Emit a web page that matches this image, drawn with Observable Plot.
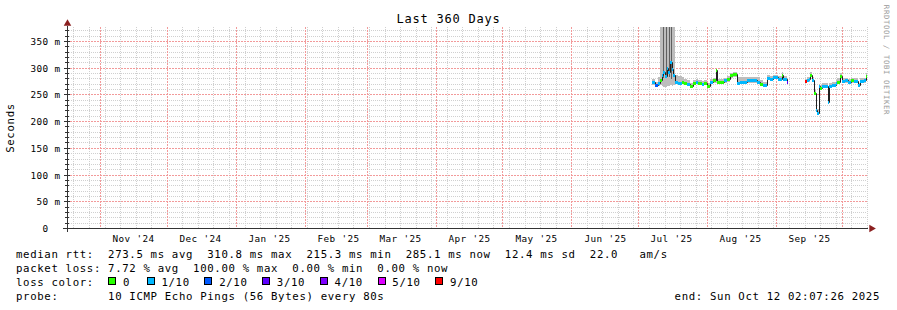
<!DOCTYPE html>
<html>
<head>
<meta charset="utf-8">
<script src="https://cdn.jsdelivr.net/npm/d3@7"></script>
<script src="https://cdn.jsdelivr.net/npm/@observablehq/plot@0.6"></script>
<style>
html,body{margin:0;padding:0;background:#fff;}
#wrap{position:relative;width:897px;height:310px;overflow:hidden;background:#fff;font-family:"DejaVu Sans Mono",monospace;color:#000;}
#chart{position:absolute;left:0;top:0;}
.title{position:absolute;left:0;width:897px;top:12px;text-align:center;font-size:12px;letter-spacing:0.78px;line-height:14px;white-space:pre;}
.ylab{position:absolute;left:11px;top:127.5px;font-size:10.7px;letter-spacing:0.65px;line-height:12px;white-space:pre;transform:translate(-50%,-50%) rotate(-90deg);}
.wm{position:absolute;left:886px;top:60px;font-size:7.33px;letter-spacing:0.6px;line-height:9px;color:#9a9a9a;white-space:pre;transform:translate(-50%,-50%) rotate(90deg);}
.legend{position:absolute;left:16px;top:248px;font-size:10.7px;letter-spacing:0.65px;line-height:14.1px;white-space:pre;}
.row{height:14.1px;}
.box{display:inline-block;width:6px;height:6px;border:1px solid #000;margin-right:6.8px;margin-bottom:1px;vertical-align:baseline;}
.lab{margin-right:14.6px;}
.end{position:absolute;right:17px;top:290.3px;font-size:10.7px;letter-spacing:0.65px;line-height:14.1px;white-space:pre;}
</style>
</head>
<body>
<div id="wrap">
  <div id="chart"></div>
  <div class="title" id="title"></div>
  <div class="ylab" id="ylab"></div>
  <div class="wm" id="wm"></div>
  <div class="legend" id="legend"></div>
  <div class="end" id="end"></div>
</div>
<script>
// ---------- data ----------
const titleText = "Last 360 Days";
const yLabel = "Seconds";
const watermark = "RRDTOOL / TOBI OETIKER";
const startTime = "2024-10-17T02:07:26";
const endTime = "2025-10-12T02:07:26";

const dates = [
"2025-07-07T12:00","2025-07-08T16:00","2025-07-10T00:00","2025-07-10T22:00","2025-07-11T16:00","2025-07-12T10:00","2025-07-13T04:00","2025-07-13T22:00","2025-07-14T14:00","2025-07-15T10:00","2025-07-16T04:00","2025-07-16T22:00",
"2025-07-17T16:00","2025-07-19T00:00","2025-07-20T16:00","2025-07-21T16:00","2025-07-23T00:00","2025-07-24T10:00","2025-07-25T22:00","2025-07-27T02:00","2025-07-28T02:00","2025-07-29T16:00","2025-07-30T16:00","2025-07-31T22:00",
"2025-08-02T10:00","2025-08-03T18:00","2025-08-05T00:00","2025-08-05T10:00","2025-08-07T16:00","2025-08-08T16:00","2025-08-09T22:00","2025-08-11T10:00","2025-08-12T22:00","2025-08-14T10:00","2025-08-15T22:00","2025-08-18T22:00",
"2025-08-21T06:00","2025-08-23T10:00","2025-08-24T22:00","2025-08-26T10:00","2025-08-27T22:00","2025-08-29T10:00","2025-08-30T22:00","2025-09-02T02:00","2025-09-03T16:00","2025-09-04T10:00","2025-09-05T22:00","2025-09-06T12:00",
"2025-09-14T02:00","2025-09-15T04:00","2025-09-15T22:00","2025-09-16T14:00","2025-09-17T10:00","2025-09-18T10:00","2025-09-18T22:00","2025-09-19T16:00","2025-09-20T10:00","2025-09-21T00:00","2025-09-21T22:00","2025-09-23T06:00",
"2025-09-24T12:00","2025-09-25T00:00","2025-09-26T10:00","2025-09-27T22:00","2025-09-28T16:00","2025-09-30T02:00","2025-09-30T22:00","2025-10-02T06:00","2025-10-03T14:00","2025-10-04T22:00","2025-10-06T06:00","2025-10-08T02:00",
"2025-10-09T02:00","2025-10-10T16:00","2025-10-11T10:00","2025-10-12T02:07"
];
// median rtt in ms (null = no data)
const median = [
273,268,272,277,286,292,284,300,292,311,298,287,
274,272,274,272,270,265,271,274,272,269,271,265,
274,276,296,274,274,276,278,286,288,271,274,276,
276,274,270,267,280,279,282,279,287,279,274,null,
275,277,278,287,277,252,221,216,265,262,266,266,
236,266,268,272,274,285,275,276,274,276,275,267,
275,276,285,null
];
// packet loss in tenths
const loss = [
1,2,1,0,1,1,1,1,1,1,1,1,
1,1,0,0,1,0,0,1,0,1,0,0,
1,0,0,0,0,1,0,0,0,1,1,1,
1,1,0,1,1,1,1,1,0,1,3,null,
9,1,1,0,1,0,1,1,1,0,1,1,
1,1,1,1,0,0,1,1,1,0,1,1,
1,1,0,null
];
// smoke (min / max ping) in ms
const smokeLo = [
268,264,266,268,266,264,264,266,266,268,266,268,
270,269,270,268,266,262,267,270,268,265,267,262,
270,272,272,270,270,272,274,280,282,268,271,272,
272,270,266,264,276,275,278,275,282,275,270,null,
272,273,274,282,273,248,217,213,261,258,262,262,
232,262,264,268,270,280,271,272,270,272,271,263,
271,272,280,null
];
const smokeHi = [
278,274,282,400,400,400,400,400,400,400,400,400,
286,284,282,278,276,272,276,278,277,275,276,271,
279,281,296,279,279,281,284,290,292,282,283,283,
283,282,276,274,286,285,287,284,291,284,280,null,
278,282,283,292,282,258,228,222,270,267,271,271,
242,271,273,277,280,290,280,281,279,281,280,272,
280,281,290,null
];
// dark smoke stripes in the July burst
const stripeStart = ["2025-07-12T09:00","2025-07-13T18:00","2025-07-14T20:00","2025-07-15T22:00"];
const stripeEnd   = ["2025-07-12T21:00","2025-07-14T06:00","2025-07-15T08:00","2025-07-16T10:00"];
const stripeLo    = [280, 284, 282, 278];
const stripeHi    = [400, 400, 400, 400];

const lossLevels = [0, 1, 2, 3, 4, 5, 9];
const lossLabels = ["0", "1/10", "2/10", "3/10", "4/10", "5/10", "9/10"];
const lossColors = ["#26ff00", "#00b8ff", "#0059ff", "#5e00ff", "#7e00ff", "#dd00ff", "#ff0000"];

const monthTicks = ["2024-11-01","2024-12-01","2025-01-01","2025-02-01","2025-03-01","2025-04-01","2025-05-01","2025-06-01","2025-07-01","2025-08-01","2025-09-01"];
const yTicks = [0, 50, 100, 150, 200, 250, 300, 350];
const yMax = 376;

const legendRows = [
  "median rtt:  273.5 ms avg  310.8 ms max  215.3 ms min  285.1 ms now  12.4 ms sd  22.0   am/s",
  "packet loss: 7.72 % avg  100.00 % max  0.00 % min  0.00 % now"
];
const lossColorLabel = "loss color:  ";
const probeText = "probe:       10 ICMP Echo Pings (56 Bytes) every 80s";
const endText = "end: Sun Oct 12 02:07:26 2025";

// ---------- build ----------
const parseS = d3.timeParse("%Y-%m-%dT%H:%M:%S");
const parseM = d3.timeParse("%Y-%m-%dT%H:%M");
const parseD = d3.timeParse("%Y-%m-%d");
const start = parseS(startTime), end = parseS(endTime);

const rows = dates.map((d, i) => ({
  date: parseM(d),
  next: i + 1 < dates.length ? parseM(dates[i + 1]) : end,
  median: median[i], loss: loss[i], lo: smokeLo[i], hi: smokeHi[i]
}));
const defined = rows.filter(r => r.median != null);
const stripes = stripeStart.map((s, i) => ({x1: parseM(s), x2: parseM(stripeEnd[i]), y1: stripeLo[i], y2: stripeHi[i]}));

const monthStarts = d3.timeMonth.range(d3.timeDay.offset(start, 1), end);
const weekStarts = d3.timeSunday.range(start, end).filter(d => d.getDate() !== 1);
const labelDates = monthTicks.map(m => d3.timeDay.offset(parseD(m), 15));
const majorY = yTicks.filter(v => v > 0);
const minorY = d3.range(10, yMax, 10).filter(v => v % 50 !== 0);

const axisColor = "#333333";
const arrowColor = "#8b2020";
const minorColor = "#d0d0d0";
const majorColor = "#f29a9a";

const plot = Plot.plot({
  width: 897, height: 310,
  marginLeft: 67, marginRight: 30, marginTop: 27, marginBottom: 82,
  x: {type: "time", domain: [start, end], round: true},
  y: {domain: [0, yMax], round: true},
  color: {type: "ordinal", domain: lossLevels, range: lossColors},
  style: {fontFamily: "DejaVu Sans Mono", fontSize: "9.33px", letterSpacing: "0.38px", background: "transparent", color: "#000"},
  marks: [
    // grid
    Plot.ruleY(minorY, {stroke: minorColor, strokeDasharray: "1,1"}),
    Plot.ruleX(weekStarts, {stroke: minorColor, strokeDasharray: "1,1"}),
    Plot.ruleY(majorY, {stroke: majorColor, strokeDasharray: "2,1"}),
    Plot.ruleX(monthStarts, {stroke: majorColor, strokeDasharray: "2,1"}),
    // smoke
    Plot.rect(defined, {x1: "date", x2: "next", y1: "lo", y2: "hi", fill: "#bdbdbd", clip: true}),
    Plot.rect(stripes, {x1: "x1", x2: "x2", y1: "y1", y2: "y2", fill: "#606060", clip: true}),
    // median
    Plot.line(rows, {x: "date", y: "median", curve: "step-after", stroke: "#202020", strokeWidth: 1}),
    Plot.ruleY(defined, {y: "median", x1: "date", x2: "next", stroke: "loss", strokeWidth: 3}),
    // short tick marks on the y axis
    Plot.ruleY(minorY, {x1: () => start, x2: () => start, insetLeft: -2, insetRight: -2, stroke: axisColor}),
    Plot.ruleY(majorY, {x1: () => start, x2: () => start, insetLeft: -3, insetRight: -3, stroke: axisColor}),
    // axis lines + arrows
    Plot.ruleY([0], {stroke: axisColor, insetLeft: -4, insetRight: -1}),
    Plot.ruleX([start], {stroke: axisColor, insetBottom: -4, insetTop: -1}),
    Plot.dot([end], {x: d => d, y: 0, symbol: "triangle", rotate: 90, r: 2.8, fill: arrowColor, stroke: null, dx: 4}),
    Plot.dot([start], {x: d => d, y: yMax, symbol: "triangle", r: 2.8, fill: arrowColor, stroke: null, dy: -4}),
    // tick labels
    Plot.axisY(yTicks, {tickSize: 0, tickPadding: 7, tickFormat: d => d === 0 ? "0\u00a0\u00a0" : `${d} m`, label: null, fill: "#000"}),
    Plot.axisX(labelDates, {tickSize: 0, tickPadding: 7, tickFormat: d3.timeFormat("%b '%y"), label: null, fill: "#000"})
  ]
});
document.getElementById("chart").appendChild(plot);

document.getElementById("title").textContent = titleText;
document.getElementById("ylab").textContent = yLabel;
document.getElementById("wm").textContent = watermark;
document.getElementById("end").textContent = endText;

const legend = d3.select("#legend");
legendRows.forEach(t => legend.append("div").attr("class", "row").text(t));
const lc = legend.append("div").attr("class", "row");
lc.append("span").text(lossColorLabel);
lossLevels.forEach((lv, i) => {
  lc.append("span").attr("class", "box").style("background", lossColors[i]);
  lc.append("span").attr("class", "lab").style("margin-right", i === 0 ? "16.6px" : null).text(lossLabels[i]);
});
legend.append("div").attr("class", "row").text(probeText);
</script>
</body>
</html>
